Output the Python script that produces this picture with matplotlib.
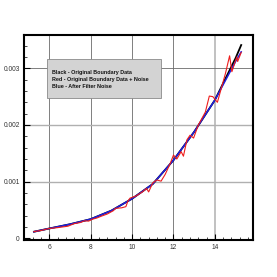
import matplotlib
matplotlib.use("Agg")
import matplotlib.pyplot as plt
from matplotlib.patches import Rectangle
from matplotlib.ticker import MultipleLocator

# ---- data ----
x_black = [5.26, 6.0, 7.0, 8.0, 9.0, 10.0, 11.0, 12.0, 13.0, 14.0, 15.0, 15.27]
y_black = [0.000118, 0.000175, 0.00025, 0.00034, 0.00049, 0.0007, 0.00096,
           0.00138, 0.00188, 0.00244, 0.00318, 0.00341]

x_blue = [5.26, 6.0, 7.0, 8.0, 9.0, 10.0, 11.0, 12.0, 13.0, 14.0, 15.0, 15.27]
y_blue = [0.000118, 0.000175, 0.00025, 0.00034, 0.00049, 0.0007, 0.00096,
          0.00138, 0.00188, 0.00244, 0.00312, 0.00329]

x_red = [5.26, 5.6, 6.0, 6.4, 6.7, 6.9, 7.2, 7.5, 7.7, 7.9, 8.1, 8.3, 8.5, 8.8,
         9.1, 9.2, 9.5, 9.7, 9.8, 9.9, 10.2, 10.5, 10.7, 10.8, 11.0, 11.2, 11.4,
         11.6, 11.84, 12.0, 12.16, 12.37, 12.48, 12.65, 12.8, 12.97, 13.2,
         13.54, 13.73, 13.9, 14.12, 14.51, 14.71, 14.82, 15.06, 15.1, 15.27]
y_red = [0.00012, 0.00014, 0.000175, 0.00019, 0.000205, 0.000215, 0.00026,
         0.00028, 0.00031, 0.000305, 0.00034, 0.00036, 0.00039, 0.00043,
         0.00049, 0.00053, 0.00054, 0.00056, 0.00066, 0.00071, 0.00075,
         0.00082, 0.00088, 0.00082, 0.00098, 0.00103, 0.00101, 0.00113,
         0.00132, 0.00147, 0.0014, 0.00153, 0.00145, 0.00174, 0.00182,
         0.00177, 0.002, 0.00223, 0.00251, 0.0025, 0.0024, 0.00291, 0.00322,
         0.00294, 0.0032, 0.00312, 0.00328]

x_ticks = [6, 8, 10, 12, 14]
x_tick_labels = ["6", "8", "10", "12", "14"]
y_ticks = [0, 0.001, 0.002, 0.003]
y_tick_labels = ["0", "0.001", "0.002", "0.003"]

legend_lines = ["Black - Original Boundary Data",
                "Red - Original Boundary Data + Noise",
                "Blue - After Filter Noise"]

plt.rcParams['font.family'] = ['Liberation Sans', 'DejaVu Sans']

fig = plt.figure(figsize=(2.77, 2.77), dpi=100)
ax = fig.add_axes([24/277, 37/277, 229/277, 205/277])
ax.set_xlim(4.78, 15.84)
ax.set_ylim(-0.000028, 0.003587)

# grid lines
grid_dark_x = [6, 8, 10, 12]
for xv in x_ticks:
    if xv in grid_dark_x:
        ax.axvline(xv, color='#6a6a6a', lw=0.6, zorder=1)
    else:
        ax.axvline(xv, color='#b0b0b0', lw=1.1, zorder=1)
for yv in y_ticks[1:]:
    if yv == 0.003:
        ax.axhline(yv, color='#6a6a6a', lw=0.6, zorder=1)
    else:
        ax.axhline(yv, color='#b0b0b0', lw=1.0, zorder=1)

ax.plot(x_black, y_black, color='black', lw=1.3, zorder=3)
ax.plot(x_blue, y_blue, color='#2020e0', lw=1.1, zorder=4)
ax.plot(x_red, y_red, color='#ee1c1c', lw=0.8, zorder=5)

ax.set_xticks(x_ticks)
ax.set_xticklabels(x_tick_labels)
ax.set_yticks(y_ticks)
ax.set_yticklabels(y_tick_labels)
ax.xaxis.set_minor_locator(MultipleLocator(0.4))
ax.yaxis.set_minor_locator(MultipleLocator(0.0002))
ax.tick_params(which='major', direction='in', length=4, width=0.8,
               labelsize=4.8, labelcolor='#333333', pad=3)
ax.tick_params(which='minor', direction='in', length=2, width=0.5)
for sp in ax.spines.values():
    sp.set_linewidth(1.5)

# legend box (text annotation)
rect = Rectangle((47/277, 1 - 98/277), (161 - 47)/277, (98 - 59)/277,
                 transform=fig.transFigure, facecolor='#d3d3d3',
                 edgecolor='#8a8a8a', lw=0.6, zorder=6)
fig.patches.append(rect)
for i, t in enumerate(legend_lines):
    fig.text(52/277, 1 - (72.3 + 7.3 * i)/277, t, fontsize=3.9,
             fontweight='bold', color='#111111', va='center', ha='left',
             zorder=7)

fig.savefig("out.png", dpi=100)
